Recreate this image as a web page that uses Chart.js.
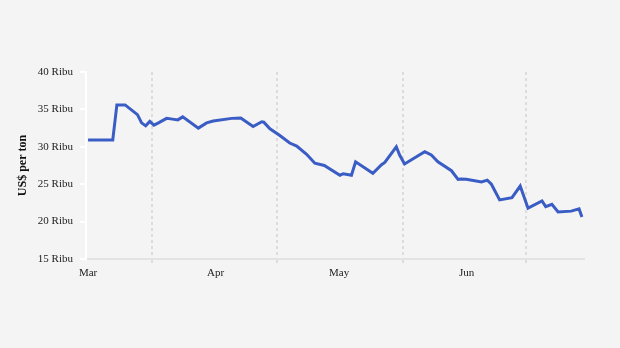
<!DOCTYPE html>
<html lang="id">
<head>
    <meta charset="UTF-8">
    <title>Harga per ton</title>
    <script src="https://cdn.jsdelivr.net/npm/chart.js"></script>
    <style>
      html, body { margin: 0; padding: 0; background: #f4f4f4; }
      #wrap { width: 620px; height: 348px; }
    </style>
</head>
<body>
    <div id="wrap"><canvas id="priceChart"></canvas></div>
    <script>
        // days counted from 1 March
        const days = [0, 6, 7, 9, 12, 13, 14, 15, 16, 17.1, 19.1, 20.5, 21.8, 23, 26.8, 28.8, 30.4, 34.9, 37.1,
            40.1, 42.2, 42.7, 44.2, 46.6, 49, 50.7, 53.1, 55.1, 57.4, 61.2, 62, 64, 65, 69.2, 71.3, 72.1,
            74.9, 75.7, 76.9, 81.8, 83.4, 85, 88.3, 89.9, 90.7, 91.9, 95.6, 97, 98, 100, 103, 105, 106.9,
            110.3, 111.2, 112.7, 114.2, 117.4, 119.3, 120];
        // thousand US$ per ton
        const prices = [30.9, 30.9, 35.6, 35.6, 34.3, 33.2, 32.8, 33.4, 32.9, 33.2, 33.8, 33.7, 33.6, 34.0, 32.5, 33.2, 33.45, 33.8, 33.85,
            32.7, 33.35, 33.3, 32.4, 31.5, 30.5, 30.1, 29.0, 27.8, 27.5, 26.2, 26.4, 26.2, 28.0, 26.45, 27.6, 27.9,
            30.0, 28.9, 27.7, 29.35, 28.9, 28.0, 26.8, 25.65, 25.7, 25.65, 25.3, 25.55, 25.0, 22.9, 23.2, 24.75, 21.8,
            22.75, 22.0, 22.3, 21.3, 21.4, 21.7, 20.6];

        const monthStarts = [0, 31, 61, 92];
        const monthLabels = ['Mar', 'Apr', 'May', 'Jun'];
        const midMonths = [15.5, 46, 76.5, 106.5];
        const yTicks = [15, 20, 25, 30, 35, 40];

        const serif = "'Liberation Serif', 'DejaVu Serif', serif";

        const ctx = document.getElementById('priceChart').getContext('2d');
        const chart = new Chart(ctx, {
            type: 'line',
            data: {
                datasets: [{
                    data: days.map((d, i) => ({ x: d, y: prices[i] })),
                    borderColor: '#3a5cc5',
                    borderWidth: 3,
                    pointRadius: 0,
                    tension: 0,
                    fill: false
                }]
            },
            options: {
                responsive: true,
                maintainAspectRatio: false,
                animation: false,
                layout: { padding: { left: 16, right: 36, top: 72, bottom: 59 } },
                plugins: { legend: { display: false }, tooltip: { enabled: false } },
                scales: {
                    x: {
                        type: 'linear',
                        min: -0.5,
                        max: 120.5,
                        afterBuildTicks: s => {
                            s.ticks = monthStarts.concat(midMonths).sort((a, b) => a - b).map(v => ({ value: v }));
                        },
                        afterFit: s => { s.height = 30; },
                        ticks: {
                            autoSkip: false,
                            maxRotation: 0,
                            padding: 3,
                            color: '#222',
                            font: { family: serif, size: 11 },
                            callback: v => {
                                const i = monthStarts.indexOf(v);
                                return i >= 0 ? monthLabels[i] : '';
                            }
                        },
                        grid: {
                            color: c => midMonths.includes(c.tick && c.tick.value) ? '#dcdcdc' : 'rgba(0,0,0,0)',
                            tickColor: c => midMonths.includes(c.tick && c.tick.value) ? '#dcdcdc' : 'rgba(0,0,0,0)',
                            lineWidth: 2,
                            tickLength: 5,
                            tickBorderDash: [3, 3]
                        },
                        border: { color: '#e3e3e3', width: 2, dash: [3, 3] }
                    },
                    y: {
                        min: 15,
                        max: 40,
                        afterBuildTicks: s => { s.ticks = yTicks.map(v => ({ value: v })); },
                        afterFit: s => { s.width = 70; },
                        ticks: {
                            padding: 7,
                            color: '#222',
                            font: { family: serif, size: 11 },
                            callback: v => v + ' Ribu'
                        },
                        grid: {
                            drawOnChartArea: false,
                            tickLength: 6,
                            tickColor: '#ffffff',
                            lineWidth: 2
                        },
                        border: { color: '#ffffff', width: 2 },
                        title: {
                            display: true,
                            text: 'US$ per ton',
                            color: '#111',
                            padding: 0,
                            font: { family: serif, size: 12, weight: 'bold' }
                        }
                    }
                }
            }
        });
    </script>
</body>
</html>
